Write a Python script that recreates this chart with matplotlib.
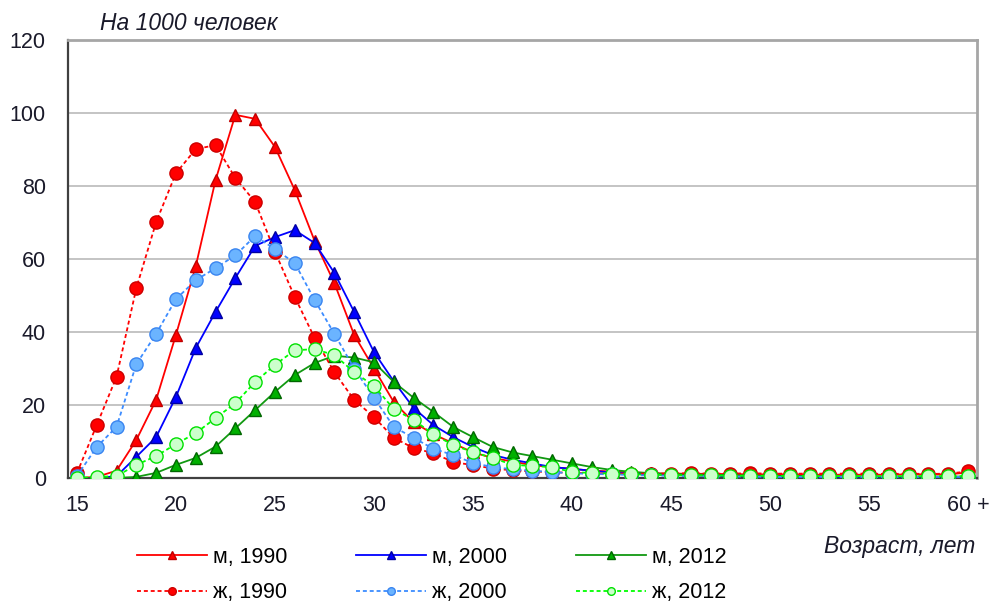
import numpy as np
import matplotlib
matplotlib.use('Agg')
import matplotlib.pyplot as plt
from matplotlib.lines import Line2D

plt.rcParams['font.family'] = ['Liberation Sans', 'DejaVu Sans']

# возраст 15..60+
ages = list(range(15, 61))
tick_ages = [15, 20, 25, 30, 35, 40, 45, 50, 55, 60]
tick_labels = ['15', '20', '25', '30', '35', '40', '45', '50', '55', '60 +']

m1990 = [0, 0.3, 2, 10.4, 21.4, 39.2, 58, 81.6, 99.5, 98.4,
         90.7, 78.9, 65, 53.4, 39.2, 30, 20.8, 15.3, 12, 9.5,
         7, 5.5, 4.5, 3.5, 3, 2.5, 2, 1.8, 1.5, 1.3,
         1.2, 1.2, 1.1, 1.1, 1.0, 1.0, 1.0, 0.9, 0.9, 0.9,
         0.9, 0.9, 1.0, 1.0, 1.0, 1.5]
m2000 = [0, 0, 0.5, 5.8, 11.2, 22.2, 35.6, 45.5, 54.8, 63.6,
         66, 67.9, 64.4, 56.2, 45.5, 34.5, 26.5, 19.2, 14.5, 11.2,
         8.5, 6.3, 5, 4, 3, 2.5, 2, 1.5, 1.2, 1.0,
         0.8, 0.7, 0.6, 0.5, 0.5, 0.4, 0.4, 0.4, 0.3, 0.3,
         0.3, 0.3, 0.3, 0.3, 0.3, 0.3]
m2012 = [0, 0, 0, 0.3, 1.4, 3.6, 5.5, 8.6, 13.6, 18.6,
         23.6, 28.2, 31.5, 33.5, 33, 31.7, 26.3, 22, 18.1, 14,
         11.2, 8.5, 7, 6, 5, 4, 3, 2.2, 1.7, 1.3,
         1.1, 1.0, 0.9, 0.8, 0.7, 0.6, 0.6, 0.5, 0.5, 0.5,
         0.4, 0.4, 0.4, 0.4, 0.4, 0.4]
f1990 = [1.3, 14.5, 27.7, 52, 70.1, 83.5, 90.1, 91.2, 82.2, 75.6,
         62, 49.6, 38.4, 29, 21.4, 16.7, 11, 8.2, 6.8, 4.4,
         3.5, 2.6, 2.1, 1.8, 1.6, 1.4, 1.3, 1.2, 1.2, 1.2,
         1.2, 1.3, 1.2, 1.2, 1.3, 1.2, 1.2, 1.2, 1.2, 1.2,
         1.2, 1.1, 1.2, 1.1, 1.2, 1.8]
f2000 = [0.5, 8.5, 14, 31.2, 39.5, 49, 54.2, 57.5, 61, 66.3,
         62.7, 58.9, 48.8, 39.5, 30, 22, 14, 11, 8, 6.3,
         4.1, 3, 2.4, 2, 1.6, 1.3, 1.1, 1.0, 0.8, 0.7,
         0.6, 0.5, 0.5, 0.4, 0.4, 0.3, 0.3, 0.3, 0.3, 0.3,
         0.3, 0.3, 0.3, 0.3, 0.3, 0.3]
f2012 = [0, 0.3, 0.5, 3.6, 6, 9.3, 12.3, 16.4, 20.5, 26.3,
         31, 35, 35.3, 33.7, 29, 25.2, 18.9, 15.9, 12, 9,
         7.1, 5.5, 3.6, 3.3, 3, 1.6, 1.4, 1.2, 1.0, 0.9,
         0.8, 0.7, 0.7, 0.6, 0.6, 0.6, 0.5, 0.5, 0.5, 0.5,
         0.5, 0.5, 0.5, 0.5, 0.5, 0.5]

# (данные, подпись, цвет линии, стиль, маркер, заливка, обводка)
series = [
    (m1990, 'м, 1990', '#FF0000', '-', '^', '#FF0000', '#C00000'),
    (m2000, 'м, 2000', '#0000FF', '-', '^', '#0000FF', '#0000A0'),
    (m2012, 'м, 2012', '#119911', '-', '^', '#00B000', '#006600'),
    (f1990, 'ж, 1990', '#FF0000', '--', 'o', '#FF0000', '#CC0000'),
    (f2000, 'ж, 2000', '#3C8CFF', '--', 'o', '#6BB4FF', '#3A85F0'),
    (f2012, 'ж, 2012', '#00FF00', '--', 'o', '#CCFFCC', '#00E000'),
]

fig = plt.figure(figsize=(9.92, 6.03), dpi=100)
ax = fig.add_axes([68 / 992, 1 - 478 / 603, 909 / 992, 438 / 603])

handles = {}
for vals, label, lc, ls, mk, mfc, mec in series:
    ms = 9 if mk == '^' else 9.5
    kw = dict(dashes=(2.2, 1.6)) if ls == '--' else {}
    ax.plot(ages, vals, color=lc, linestyle=ls, linewidth=1.3, marker=mk,
            markersize=ms, markerfacecolor=mfc, markeredgecolor=mec,
            markeredgewidth=1.0, zorder=3, **kw)
    handles[label] = Line2D([], [], color=lc, linestyle=ls, linewidth=1.3,
                            marker=mk, markersize=5.5, markerfacecolor=mfc,
                            markeredgecolor=mec, **kw)

ax.set_xlim(14.55, 60.45)
ax.set_ylim(0, 120)
ax.set_yticks([0, 20, 40, 60, 80, 100, 120])
ax.set_xticks(tick_ages)
ax.set_xticklabels(tick_labels)
ax.tick_params(length=0, labelsize=15.5, colors='#1a1a2a')
ax.tick_params(axis='y', pad=16)
ax.tick_params(axis='x', pad=12)
ax.yaxis.grid(True, color='#BFBFBF', linewidth=1.3)
ax.set_axisbelow(True)

ax.spines['left'].set_color('#404040')
ax.spines['bottom'].set_color('#404040')
ax.spines['left'].set_linewidth(1.6)
ax.spines['bottom'].set_linewidth(1.6)
ax.spines['top'].set_color('#A6A6A6')
ax.spines['right'].set_color('#A6A6A6')
ax.spines['top'].set_linewidth(2)
ax.spines['right'].set_linewidth(2)

fig.text(100 / 992, 1 - 23 / 603, 'На 1000 человек', fontsize=16.5,
         style='italic', ha='left', va='center', color='#1a1a2a')
fig.text(975 / 992, 1 - 547 / 603, 'Возраст, лет', fontsize=16.5,
         style='italic', ha='right', va='center', color='#1a1a2a')

order = ['м, 1990', 'ж, 1990', 'м, 2000', 'ж, 2000', 'м, 2012', 'ж, 2012']
fig.legend([handles[k] for k in order], order, ncol=3, frameon=False,
           fontsize=15.5, loc='center left',
           bbox_to_anchor=(128 / 992, 1 - 575 / 603),
           handlelength=3.25, handletextpad=0.28, columnspacing=3.2,
           labelspacing=0.67, borderaxespad=0)

fig.savefig('out.png', dpi=100)
